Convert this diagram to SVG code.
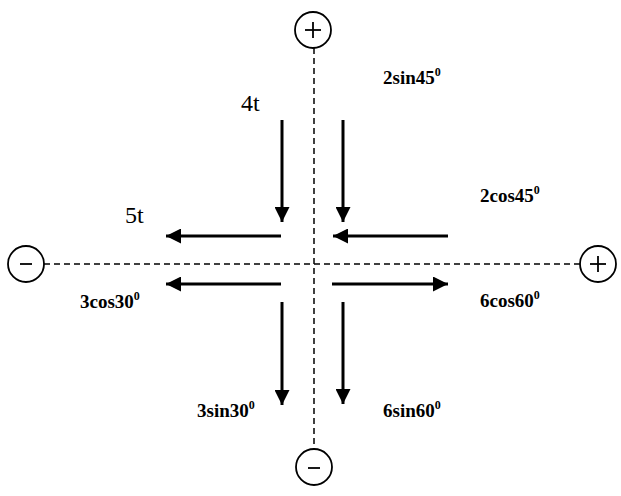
<svg xmlns="http://www.w3.org/2000/svg" width="621" height="496" viewBox="0 0 621 496">
<style>
.axis{stroke:#000;stroke-width:1.5;stroke-dasharray:6,4;fill:none}
.circ{stroke:#000;stroke-width:1.8;fill:#fff}
.sign{stroke:#000;stroke-width:1.8}
.arr{stroke:#000;stroke-width:3;fill:none}
.lbl{font-family:"Liberation Serif","Times New Roman",serif;font-size:24px;fill:#000}
.blbl{font-family:"Liberation Serif","Times New Roman",serif;font-size:19px;font-weight:bold;fill:#000}
.sup{font-size:12px}
</style>
<defs>
<marker id="ah" viewBox="0 0 10 10" refX="10" refY="5" markerWidth="5" markerHeight="5" markerUnits="strokeWidth" orient="auto">
<path d="M0,0 L10,5 L0,10 Z" fill="#000"/>
</marker>
</defs>
<g id="axes">
<line class="axis" x1="44" y1="264" x2="580" y2="264"/>
<line class="axis" x1="314" y1="48" x2="314" y2="449"/>
</g>
<g id="plus-top"><circle class="circ" cx="313" cy="30" r="18"/><line class="sign" x1="305" y1="30" x2="321" y2="30"/><line class="sign" x1="313" y1="22" x2="313" y2="38"/></g>
<g id="minus-bottom"><circle class="circ" cx="314" cy="467" r="18"/><line class="sign" x1="308" y1="468" x2="320" y2="468"/></g>
<g id="minus-left"><circle class="circ" cx="26" cy="264" r="18"/><line class="sign" x1="20" y1="264" x2="32" y2="264"/></g>
<g id="plus-right"><circle class="circ" cx="598" cy="264" r="18"/><line class="sign" x1="590" y1="264" x2="606" y2="264"/><line class="sign" x1="598" y1="256" x2="598" y2="272"/></g>
<g id="connectors">
<line class="arr" x1="282" y1="120" x2="282" y2="222" marker-end="url(#ah)"/>
<line class="arr" x1="343" y1="120" x2="343" y2="222" marker-end="url(#ah)"/>
<line class="arr" x1="281" y1="236" x2="166" y2="236" marker-end="url(#ah)"/>
<line class="arr" x1="448" y1="236" x2="333" y2="236" marker-end="url(#ah)"/>
<line class="arr" x1="281" y1="284" x2="166" y2="284" marker-end="url(#ah)"/>
<line class="arr" x1="332" y1="284" x2="448" y2="284" marker-end="url(#ah)"/>
<line class="arr" x1="282" y1="302" x2="282" y2="405" marker-end="url(#ah)"/>
<line class="arr" x1="343" y1="302" x2="343" y2="404" marker-end="url(#ah)"/>
</g>
<g id="labels">
<text class="lbl" x="241" y="111">4t</text>
<text class="lbl" x="125" y="223">5t</text>
<text class="blbl" x="383" y="84">2sin45<tspan class="sup" dy="-8">0</tspan></text>
<text class="blbl" x="480" y="202">2cos45<tspan class="sup" dy="-8">0</tspan></text>
<text class="blbl" x="80" y="308">3cos30<tspan class="sup" dy="-8">0</tspan></text>
<text class="blbl" x="480" y="307">6cos60<tspan class="sup" dy="-8">0</tspan></text>
<text class="blbl" x="197" y="417">3sin30<tspan class="sup" dy="-8">0</tspan></text>
<text class="blbl" x="383" y="417">6sin60<tspan class="sup" dy="-8">0</tspan></text>
</g>
</svg>
